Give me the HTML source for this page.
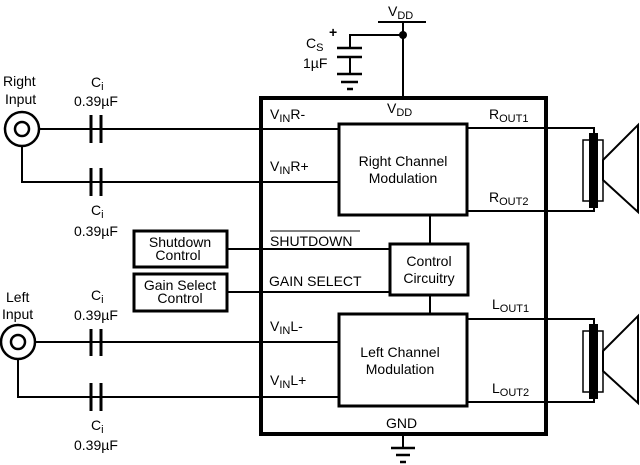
<!DOCTYPE html>
<html><head><style>
html,body{margin:0;padding:0;background:#fff;}
svg{display:block;}
text{font-family:"Liberation Sans",Arial,sans-serif;font-size:14px;fill:#000;}
</style></head><body>
<svg width="640" height="465" viewBox="0 0 640 465" xmlns="http://www.w3.org/2000/svg">
<g stroke="#000" fill="none" stroke-width="2">
<rect x="261" y="98" width="285" height="336" stroke-width="4"/>
<rect x="339" y="124" width="128" height="91" stroke-width="3"/>
<rect x="339" y="314" width="128" height="92" stroke-width="3"/>
<rect x="390" y="244" width="78" height="51" stroke-width="3"/>
<rect x="134" y="231" width="93" height="36" stroke-width="3"/>
<rect x="134" y="274" width="93" height="37" stroke-width="3"/>
<line x1="430" y1="215" x2="430" y2="244"/>
<line x1="430" y1="295" x2="430" y2="314"/>
<line x1="38" y1="129" x2="339" y2="129"/>
<polyline points="22,146 22,182 339,182"/>
<line x1="227" y1="249" x2="390" y2="249"/>
<line x1="227" y1="292" x2="390" y2="292"/>
<line x1="34" y1="342" x2="339" y2="342"/>
<polyline points="18,359 18,397 339,397"/>
<circle cx="22" cy="129" r="17" stroke-width="2.5"/>
<circle cx="22" cy="129" r="7" stroke-width="2.5"/>
<circle cx="18" cy="342" r="17" stroke-width="2.5"/>
<circle cx="18" cy="342" r="7" stroke-width="2.5"/>
<polyline points="467,128 594,128 594,134"/>
<polyline points="467,211 594,211 594,206"/>
<polyline points="467,319 594,319 594,325"/>
<polyline points="467,402 594,402 594,396"/>
<line x1="378" y1="22" x2="426" y2="22"/>
<line x1="403" y1="22" x2="403" y2="98"/>
<polyline points="403,35 350,35 350,48"/>
<line x1="337" y1="48" x2="362" y2="48" stroke-width="2.5"/>
<line x1="337" y1="57" x2="362" y2="57" stroke-width="2.5"/>
<line x1="350" y1="57" x2="350" y2="74"/>
<line x1="337" y1="74" x2="362" y2="74" stroke-width="2.5"/>
<line x1="341" y1="82" x2="358" y2="82" stroke-width="2.5"/>
<line x1="347" y1="89" x2="353" y2="89" stroke-width="2.5"/>
<line x1="403" y1="434" x2="403" y2="448"/>
<line x1="391" y1="448" x2="415" y2="448" stroke-width="2.5"/>
<line x1="396" y1="455" x2="410" y2="455" stroke-width="2.5"/>
<line x1="400" y1="462" x2="406" y2="462" stroke-width="2.5"/>
<g stroke-width="3">
<line x1="91" y1="115" x2="91" y2="143"/><line x1="101" y1="115" x2="101" y2="143"/>
<line x1="91" y1="168" x2="91" y2="196"/><line x1="101" y1="168" x2="101" y2="196"/>
<line x1="91" y1="329" x2="91" y2="356"/><line x1="101" y1="329" x2="101" y2="356"/>
<line x1="91" y1="383" x2="91" y2="411"/><line x1="101" y1="383" x2="101" y2="411"/>
</g>
<rect x="583" y="140" width="20" height="61" stroke-width="1.5"/>
<polygon points="603,160 638,125 638,212 603,180" stroke-width="2"/>
<rect x="583" y="331" width="20" height="61" stroke-width="1.5"/>
<polygon points="603,351 638,316 638,403 603,371" stroke-width="2"/>
</g>
<g fill="#000">
<circle cx="403" cy="35" r="4"/>
<rect x="589" y="133" width="9" height="75"/>
<rect x="589" y="324" width="9" height="75"/>
</g>
<text x="388" y="16">V<tspan font-size="11" dy="3">DD</tspan></text>
<text x="306" y="48">C<tspan font-size="11" dy="3">S</tspan></text>
<text x="303" y="68">1µF</text>
<text x="329" y="37" font-size="16" font-weight="bold">+</text>
<text x="3" y="86">Right</text>
<text x="5" y="104">Input</text>
<text x="91" y="87">C<tspan font-size="11" dy="3">i</tspan></text>
<text x="74" y="106">0.39µF</text>
<text x="91" y="215">C<tspan font-size="11" dy="3">i</tspan></text>
<text x="74" y="236">0.39µF</text>
<text x="6" y="302">Left</text>
<text x="2" y="319">Input</text>
<text x="91" y="300">C<tspan font-size="11" dy="3">i</tspan></text>
<text x="74" y="320">0.39µF</text>
<text x="91" y="430">C<tspan font-size="11" dy="3">i</tspan></text>
<text x="74" y="450">0.39µF</text>
<text x="387" y="113">V<tspan font-size="11" dy="3">DD</tspan></text>
<text x="270" y="119">V<tspan font-size="11" dy="3">IN</tspan><tspan dy="-3">R-</tspan></text>
<text x="270" y="171">V<tspan font-size="11" dy="3">IN</tspan><tspan dy="-3">R+</tspan></text>
<text x="270" y="246">SHUTDOWN</text>
<line x1="270" y1="231" x2="360" y2="231" stroke="#000" stroke-width="1"/>
<text x="269" y="286">GAIN SELECT</text>
<text x="270" y="331">V<tspan font-size="11" dy="3">IN</tspan><tspan dy="-3">L-</tspan></text>
<text x="270" y="385">V<tspan font-size="11" dy="3">IN</tspan><tspan dy="-3">L+</tspan></text>
<text x="489" y="119">R<tspan font-size="11" dy="3">OUT1</tspan></text>
<text x="489" y="202">R<tspan font-size="11" dy="3">OUT2</tspan></text>
<text x="492" y="309">L<tspan font-size="11" dy="3">OUT1</tspan></text>
<text x="492" y="393">L<tspan font-size="11" dy="3">OUT2</tspan></text>
<text x="386" y="428">GND</text>
<text x="403" y="166" text-anchor="middle">Right Channel</text>
<text x="403" y="183" text-anchor="middle">Modulation</text>
<text x="400" y="357" text-anchor="middle">Left Channel</text>
<text x="400" y="374" text-anchor="middle">Modulation</text>
<text x="429" y="266" text-anchor="middle">Control</text>
<text x="429" y="283" text-anchor="middle">Circuitry</text>
<text x="180" y="247" text-anchor="middle">Shutdown</text>
<text x="178" y="260" text-anchor="middle">Control</text>
<text x="180" y="290" text-anchor="middle">Gain Select</text>
<text x="180" y="303" text-anchor="middle">Control</text>
</svg>
</body></html>
